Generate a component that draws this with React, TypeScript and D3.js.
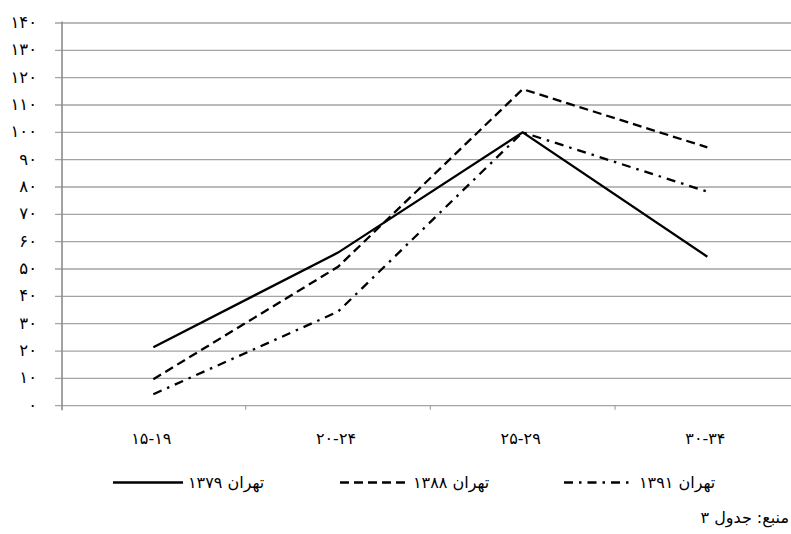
import React from "react";
import * as d3 from "d3";

const categories = ["۱۵-۱۹", "۲۰-۲۴", "۲۵-۲۹", "۳۰-۳۴"];
const seriesNames = ["تهران ۱۳۷۹", "تهران ۱۳۸۸", "تهران ۱۳۹۱"];
const tehran1379 = [21.4, 56, 100, 54.5];
const tehran1388 = [9.7, 50.8, 115.8, 94.5];
const tehran1391 = [4.2, 34.4, 100, 78.3];
const yTicks = [0, 10, 20, 30, 40, 50, 60, 70, 80, 90, 100, 110, 120, 130, 140];
const sourceNote = "منبع: جدول ۳";

const W = 791;
const H = 534;
const FONT = "'DejaVu Sans', sans-serif";

const toFa = (n: number) =>
  String(n).replace(/\d/g, (d) => "۰۱۲۳۴۵۶۷۸۹"[+d]);

export default function App() {
  const x = d3
    .scaleBand<string>()
    .domain(categories)
    .range([61, 799.7])
    .paddingInner(0)
    .paddingOuter(0);
  const y = d3.scaleLinear().domain([0, 140]).range([405.7, 23]);
  const cx = (c: string) => (x(c) as number) + x.bandwidth() / 2;

  const line = d3
    .line<number>()
    .x((_, i) => cx(categories[i]))
    .y((v) => y(v));

  const series = [
    { name: seriesNames[0], values: tehran1379, dash: "none" },
    { name: seriesNames[1], values: tehran1388, dash: "9,5" },
    { name: seriesNames[2], values: tehran1391, dash: "9,6,2.5,6" },
  ];

  const legendPos = [
    { x1: 113, x2: 183, tx: 188 },
    { x1: 340, x2: 407, tx: 413 },
    { x1: 564, x2: 634, tx: 639 },
  ];

  const boundaries = categories.map((c) => x(c) as number).slice(1);

  return (
    <svg
      width={W}
      height={H}
      style={{ position: "absolute", left: 0, top: 0, background: "#fff" }}
      fontFamily={FONT}
    >
      {/* gridlines */}
      {yTicks.map((t) => (
        <line
          key={"g" + t}
          x1={55}
          x2={W}
          y1={y(t)}
          y2={y(t)}
          stroke="#a3a3a3"
          strokeWidth={1.3}
        />
      ))}
      {/* y axis */}
      <line x1={62} x2={62} y1={y(140) - 1.5} y2={y(0) + 4.5} stroke="#8c8c8c" strokeWidth={1.6} />
      {/* x ticks */}
      {boundaries.map((b, i) => (
        <line key={"xt" + i} x1={b} x2={b} y1={y(0)} y2={y(0) + 4} stroke="#a3a3a3" strokeWidth={1.2} />
      ))}
      {/* y labels */}
      {yTicks.map((t) => (
        <text
          key={"yl" + t}
          x={37}
          y={y(t)}
          dy="0.3em"
          textAnchor="end"
          fontSize={16.5}
          fill="#000"
        >
          {toFa(t)}
        </text>
      ))}
      {/* x labels */}
      {categories.map((c) => (
        <text key={"xl" + c} x={cx(c) - 2} y={444} textAnchor="middle" fontSize={16} fill="#000">
          {c}
        </text>
      ))}
      {/* series lines */}
      {series.map((s) => (
        <path
          key={s.name}
          d={line(s.values) as string}
          fill="none"
          stroke="#000"
          strokeWidth={2.3}
          strokeDasharray={s.dash}
          strokeLinejoin="miter"
        />
      ))}
      {/* legend */}
      {series.map((s, i) => (
        <g key={"lg" + i}>
          <line
            x1={legendPos[i].x1}
            x2={legendPos[i].x2}
            y1={482.5}
            y2={482.5}
            stroke="#000"
            strokeWidth={2.3}
            strokeDasharray={s.dash}
          />
          <text x={legendPos[i].tx} y={488} fontSize={16} fill="#000">
            {s.name}
          </text>
        </g>
      ))}
      <text x={789} y={523} textAnchor="end" fontSize={16} fill="#000">
        {sourceNote}
      </text>
    </svg>
  );
}
